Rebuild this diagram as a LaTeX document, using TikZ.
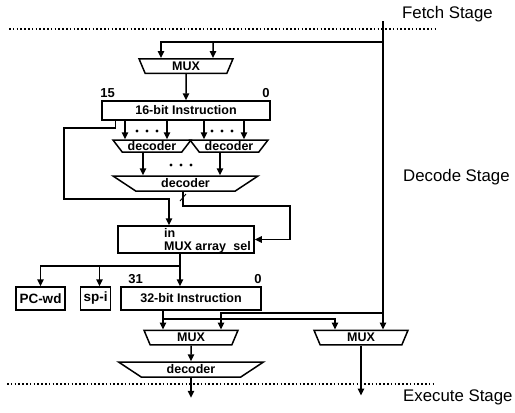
\documentclass[tikz,border=0pt]{standalone}
\usepackage{fontspec}
\setmainfont{Liberation Sans}
\usetikzlibrary{shapes.geometric, arrows.meta, positioning}

\begin{document}
\begin{tikzpicture}[
        x=1pt, y=-1pt,
        reg/.style={rectangle, draw, line width=1.5pt, inner sep=0pt, minimum height=23pt, font=\bfseries\fontsize{12.5}{13}\selectfont},
        mux/.style={trapezium, trapezium left angle=125, trapezium right angle=125, trapezium stretches body, draw, line width=1.5pt, inner sep=0pt, minimum width=94pt, minimum height=14.5pt, font=\bfseries\fontsize{12.5}{13}\selectfont},
        dec/.style={mux, trapezium left angle=135, trapezium right angle=135, minimum width=78pt, minimum height=12pt},
        bigdec/.style={mux, trapezium left angle=158, trapezium right angle=158, minimum width=145pt, minimum height=15pt},
        bitno/.style={inner sep=0pt, font=\bfseries\fontsize{13}{13}\selectfont},
        lbl/.style={inner sep=0pt, anchor=west, font=\bfseries\fontsize{12.5}{13}\selectfont},
        stage/.style={inner sep=0pt, anchor=west, font=\fontsize{16.8}{17}\selectfont},
        wire/.style={line width=1.5pt},
        arr/.style={wire, -{Triangle[length=7pt, width=6.5pt]}},
        sep/.style={line width=1.6pt, dash pattern=on 1.6pt off 2.2pt},
        dot/.style={circle, fill, inner sep=0pt, minimum size=3.4pt}
      ]
        \useasboundingbox (0,0) rectangle (515,413);

        % stage borders
        \draw[sep] (9,29) -- (435,29);
        \draw[sep] (7,384) -- (435,384);
        \node[stage] (fetchlbl) at (402,14) {Fetch Stage};
        \node[stage] (decodelbl) at (403,177) {Decode Stage};
        \node[stage] (execlbl) at (403,397) {Execute Stage};

        % fetch side
        \node[mux] (fmux) at (186,66) {MUX};
        \node[reg, minimum width=168pt, minimum height=19pt] (ins16) at (186,110.5) {16-bit Instruction};
        \node[bitno, above right=2pt and -1pt of ins16.north west] (b15) {15};
        \node[bitno, above left=2pt and 1pt of ins16.north east] (b0) {0};

        % decoders
        \node[dec] (dec1) at (152,146) {decoder};
        \node[dec] (dec2) at (229,146) {decoder};
        \node[bigdec] (dec3) at (185.5,183.5) {decoder};
        \foreach \x in {137,147,157,212,222,232}
          \node[dot] (dt\x) at (\x,131) {};
        \foreach \x in {171,181,191}
          \node[dot] (db\x) at (\x,165) {};

        % mux array
        \node[reg, minimum width=136pt, minimum height=27pt] (marr) at (186,239.5) {};
        \node[lbl] (inlbl) at (164,233) {in};
        \node[lbl] (marrlbl) at (164,247.5) {MUX array};
        \node[lbl, anchor=east] (sellbl) at (251,246.5) {sel};

        % registers below
        \node[reg, minimum width=49pt, font=\bfseries\fontsize{13.5}{14}\selectfont] (pcwd) at (40.5,298.5) {PC-wd};
        \node[reg, right=14pt of pcwd, minimum width=30pt, font=\bfseries\fontsize{13.5}{14}\selectfont] (spi) {sp-i};
        \node[reg, right=9pt of spi, minimum width=140pt] (ins32) {32-bit Instruction};
        \node[bitno, above right=2pt and 8pt of ins32.north west] (b31) {31};
        \node[bitno, above left=2pt and 0pt of ins32.north east] (b0b) {0};

        \node[mux] (muxA) at (191,337.5) {MUX};
        \node[mux] (muxB) at (361,337.5) {MUX};
        \node[bigdec] (dec4) at (191,369.5) {decoder};

        \coordinate (fetch) at (383,21);
        \coordinate (j1) at (383,42);
        \coordinate (j2) at (383,313);
        \coordinate (j3) at (163,319);
        \coordinate (split) at (180,266);
        \coordinate (exA) at ([yshift=-20pt]dec4.south);
        \coordinate (exB) at ([yshift=-50pt]muxB.south);

        \draw[arr] (fetch) -- (fetch |- muxB.north);
        \draw[arr] (j1) -| ([xshift=-25pt]fmux.north);
        \draw[arr] (j1 -| 213,0) -- ([xshift=27pt]fmux.north);
        \draw[arr] (fmux.south) -- (ins16.north);

        \draw[arr] ([xshift=14pt]ins16.south west) -- ++(0,7) -| (64,199) -| ([xshift=-17pt]marr.north);
        \foreach \x/\d in {125/dec1, 167/dec1, 204/dec2, 244/dec2}
          \draw[arr] (ins16.south -| \x,0) -- (\d.north -| \x,0);
        \draw[arr] (dec1.south -| 143,0) -- (dec3.north -| 143,0);
        \draw[arr] (dec2.south -| 220,0) -- (dec3.north -| 220,0);
        \draw[arr] (dec3.south -| 183,0) |- (290,206) |- (marr.east);
        \draw[line width=0.9pt] (180,201) -- (186,194);

        \draw[wire] (marr.south -| split) -- (split);
        \draw[arr] (split) -| (pcwd.north);
        \draw[arr] (split) -| ([xshift=4pt]spi.north);
        \draw[arr] (split) -- (ins32.north -| split);

        \draw[arr] (ins32.south -| j3) -- (muxA.north -| j3);
        \draw[arr] (j3) -| ([xshift=-26pt]muxB.north);
        \draw[arr] (j2) -| (muxA.north -| 221,0);
        \draw[arr] (muxA.south) -- (dec4.north);
        \draw[arr] (dec4.south) -- (exA);
        \draw[arr] (muxB.south) -- (exB);
      \end{tikzpicture}
\end{document}
